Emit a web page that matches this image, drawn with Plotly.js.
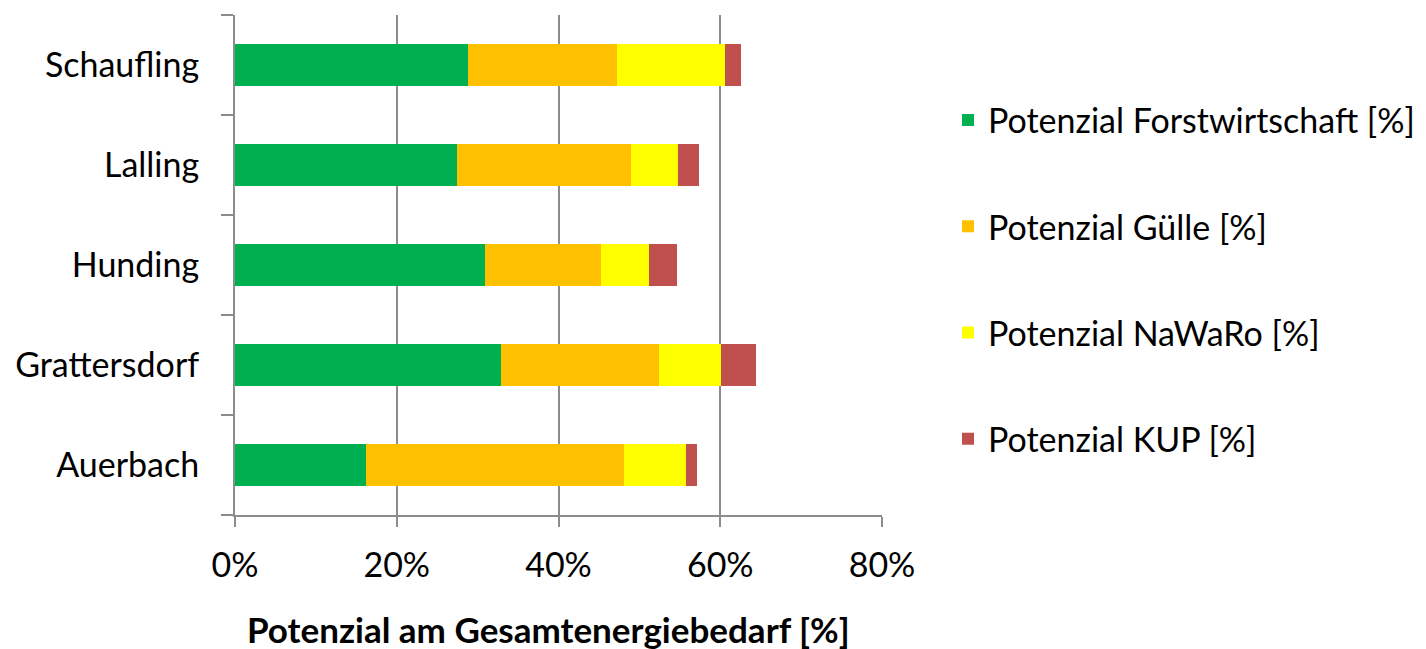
<!DOCTYPE html>
<html>
<head>
<meta charset="utf-8">
<script src="https://cdn.plot.ly/plotly-3.0.1.min.js"></script>
<style>
html,body{margin:0;padding:0;background:#fff;}
#chart{width:1426px;height:649px;}
</style>
</head>
<body>
<div id="chart"></div>
<script>
const categories = ['Auerbach', 'Grattersdorf', 'Hunding', 'Lalling', 'Schaufling'];
const forstwirtschaft = [16.2, 32.9, 30.9, 27.5, 28.8];
const guelle = [31.9, 19.5, 14.3, 21.5, 18.4];
const nawaro = [7.7, 7.7, 5.95, 5.8, 13.4];
const kup = [1.3, 4.3, 3.5, 2.6, 1.95];
const seriesNames = ['Potenzial Forstwirtschaft [%]', 'Potenzial Gülle [%]', 'Potenzial NaWaRo [%]', 'Potenzial KUP [%]'];
const seriesColors = ['#00B050', '#FFC000', '#FFFF00', '#C0504D'];
const xTickValues = [0, 20, 40, 60, 80];
const xTickLabels = ['0%', '20%', '40%', '60%', '80%'];
const xTitle = 'Potenzial am Gesamtenergiebedarf [%]';

const seriesValues = [forstwirtschaft, guelle, nawaro, kup];
const font = 'Lato, "Open Sans", sans-serif';

const traces = seriesValues.map((vals, i) => ({
  type: 'bar',
  orientation: 'h',
  name: seriesNames[i],
  y: categories,
  x: vals,
  marker: {color: seriesColors[i], line: {width: 0}},
  legendgroup: 'g' + i,
  hoverinfo: 'x+name'
}));

const layout = {
  width: 1426,
  height: 649,
  margin: {l: 235, r: 544, t: 15, b: 134, autoexpand: false},
  paper_bgcolor: '#ffffff',
  plot_bgcolor: '#ffffff',
  barmode: 'stack',
  bargap: 0.58,
  font: {family: font, size: 34, color: '#000000'},
  xaxis: {
    range: [0, 80],
    tickvals: xTickValues,
    ticktext: xTickLabels,
    showgrid: true,
    gridcolor: '#8c8c8c',
    gridwidth: 2,
    zeroline: false,
    showline: true,
    linecolor: '#8c8c8c',
    linewidth: 2,
    ticks: 'outside',
    ticklen: 10,
    tickwidth: 2,
    tickcolor: '#8c8c8c',
    ticklabelstandoff: 9,
    tickfont: {family: font, size: 34, color: '#000'},
    fixedrange: true
  },
  yaxis: {
    type: 'category',
    categoryorder: 'array',
    categoryarray: categories,
    range: [-0.5, 4.5],
    showline: true,
    linecolor: '#8c8c8c',
    linewidth: 2,
    ticks: 'outside',
    tickson: 'boundaries',
    ticklen: 12,
    tickwidth: 2,
    tickcolor: '#8c8c8c',
    showgrid: false,
    ticklabelstandoff: 27,
    tickfont: {family: font, size: 34, color: '#000'},
    fixedrange: true
  },
  showlegend: true,
  legend: {
    xref: 'container',
    yref: 'container',
    x: 0.6648,
    xanchor: 'left',
    y: 0.5693,
    yanchor: 'middle',
    maxheight: 620,
    traceorder: 'grouped',
    tracegroupgap: 59,
    font: {family: font, size: 34, color: '#000'},
    bgcolor: 'rgba(0,0,0,0)'
  },
  annotations: [{
    text: '<b>' + xTitle + '</b>',
    xref: 'paper', yref: 'paper',
    x: 0.485, y: 0,
    xanchor: 'center', yanchor: 'middle',
    yshift: -114,
    showarrow: false,
    font: {family: font, size: 35, color: '#000'}
  }]
};

Plotly.newPlot('chart', traces, layout, {displayModeBar: false, staticPlot: true});
</script>
</body>
</html>
